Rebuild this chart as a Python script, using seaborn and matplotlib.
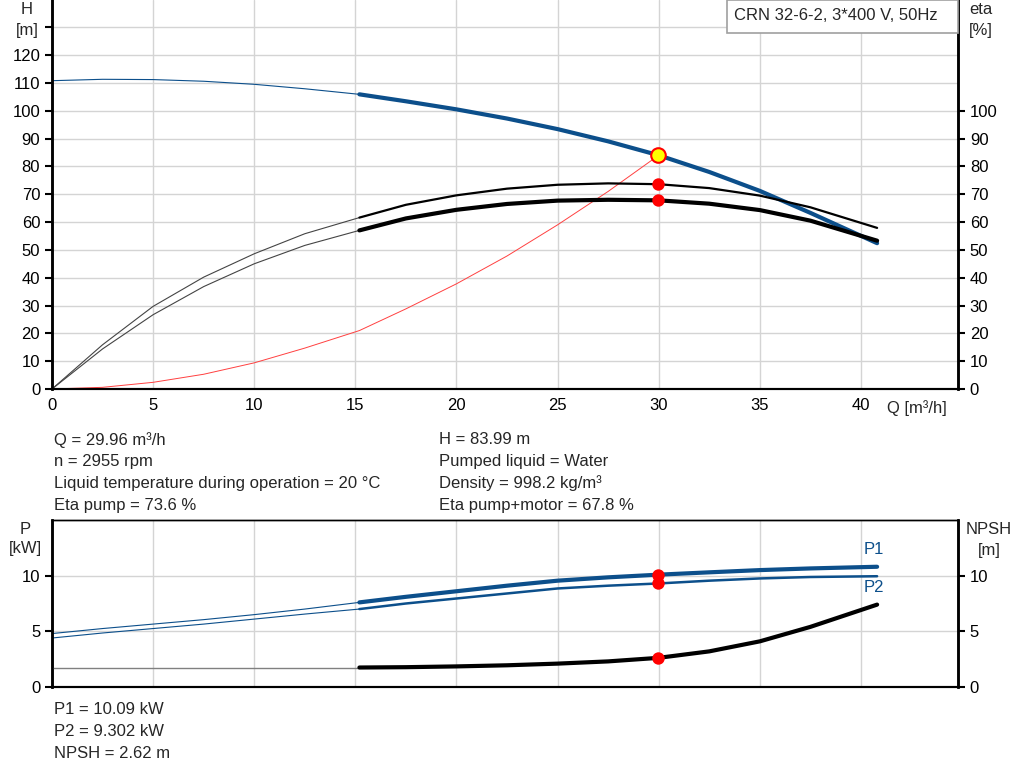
import numpy as np
import pandas as pd
import matplotlib
matplotlib.use("Agg")
import matplotlib.pyplot as plt
from matplotlib.patches import Rectangle
import seaborn as sns

# Values (Q in m3/h)
q = [0, 2.5, 5, 7.5, 10, 12.5, 15.2, 17.5, 20, 22.5, 25, 27.5, 30, 32.5, 35, 37.5, 40.8]
head = [110.8, 111.3, 111.2, 110.6, 109.5, 107.9, 105.9, 103.4, 100.5, 97.2, 93.4, 89.0,
        84.0, 78.0, 71.2, 63.3, 52.4]
eta_pump = [0, 15.9, 29.7, 40.2, 48.6, 55.8, 61.6, 66.2, 69.6, 72.0, 73.4, 73.9,
            73.6, 72.2, 69.5, 65.3, 57.9]
eta_total = [0, 14.4, 26.7, 36.8, 45.0, 51.6, 57.0, 61.3, 64.4, 66.5, 67.7, 68.0,
             67.8, 66.6, 64.3, 60.5, 53.3]
p1 = [4.8, 5.25, 5.65, 6.05, 6.5, 7.0, 7.6, 8.1, 8.6, 9.1, 9.55, 9.85,
      10.09, 10.3, 10.5, 10.65, 10.8]
p2 = [4.4, 4.85, 5.25, 5.65, 6.1, 6.55, 7.0, 7.5, 7.95, 8.4, 8.85, 9.1,
      9.3, 9.55, 9.75, 9.88, 9.95]
npsh = [1.75, 1.75, 1.75, 1.75, 1.75, 1.75, 1.75, 1.78, 1.85, 1.95, 2.1, 2.3,
        2.62, 3.2, 4.1, 5.4, 7.4]

q_sys = [0, 2.5, 5, 7.5, 10, 12.5, 15.2, 17.5, 20, 22.5, 25, 27.5, 30]
h_sys = [0, 0.6, 2.4, 5.3, 9.4, 14.7, 21.0, 28.8, 37.8, 47.8, 59.0, 71.0, 84.0]

Q_OP_MIN = 15.2  # start of the operating range (thick part of the curves)

duty_q = 29.96
duty_h = 83.99
duty_eta = [73.6, 67.8]
duty_p = [10.09, 9.302]
duty_npsh = 2.62

info_left = ["Q = 29.96 m³/h", "n = 2955 rpm",
             "Liquid temperature during operation = 20 °C", "Eta pump = 73.6 %"]
info_right = ["H = 83.99 m", "Pumped liquid = Water",
              "Density = 998.2 kg/m³", "Eta pump+motor = 67.8 %"]
info_bottom = ["P1 = 10.09 kW", "P2 = 9.302 kW", "NPSH = 2.62 m"]
title = "CRN 32-6-2, 3*400 V, 50Hz"

BLUE = "#0c4f8b"
GRID = "#d4d4d4"
FS = 12
W, H = 1024, 781

sns.set_style("white")
plt.rcParams["font.family"] = ["Liberation Sans", "DejaVu Sans"]
plt.rcParams["font.size"] = FS
plt.rcParams["lines.solid_joinstyle"] = "round"

df = pd.DataFrame({"q": q, "head": head, "eta_pump": eta_pump, "eta_total": eta_total,
                   "p1": p1, "p2": p2, "npsh": npsh})
thin = df[df["q"] <= Q_OP_MIN]
thick = df[df["q"] >= Q_OP_MIN]
sys_df = pd.DataFrame({"q": q_sys, "h": h_sys})


def fx(px):
    return px / W


def fy(py):
    return 1 - py / H


fig = plt.figure(figsize=(10.24, 7.81), dpi=100)
ax = fig.add_axes([fx(52), fy(389), fx(958) - fx(52), fy(0) - fy(389)])
ax2 = ax.twinx()
bx = fig.add_axes([fx(52), fy(687), fx(958) - fx(52), fy(520) - fy(687)])
bx2 = bx.twinx()

XMAX = 44.8
for a in (ax, bx):
    a.set_xlim(0, XMAX)
    a.set_xticks(np.arange(0, 45, 5))
    a.grid(True, color=GRID, linewidth=1)
    a.set_axisbelow(True)

# ---- top chart: head and efficiency ----
ax.set_ylim(0, 139.8)
ax.set_yticks(np.arange(0, 140, 10))
ax.set_yticklabels([str(v) if v <= 120 else "" for v in range(0, 140, 10)])
ax2.set_ylim(0, 139.8)
ax2.set_yticks(np.arange(0, 110, 10))

sns.lineplot(data=thin, x="q", y="head", ax=ax, color=BLUE, linewidth=0.8, sort=False)
sns.lineplot(data=thick, x="q", y="head", ax=ax, color=BLUE, linewidth=3, sort=False)
sns.lineplot(data=thin, x="q", y="eta_pump", ax=ax2, color="#444444", linewidth=0.8, sort=False)
sns.lineplot(data=thin, x="q", y="eta_total", ax=ax2, color="#444444", linewidth=0.8, sort=False)
sns.lineplot(data=thick, x="q", y="eta_pump", ax=ax2, color="black", linewidth=1.6, sort=False)
sns.lineplot(data=thick, x="q", y="eta_total", ax=ax2, color="black", linewidth=3, sort=False)
sns.lineplot(data=sys_df, x="q", y="h", ax=ax, color="#ff4040", linewidth=0.7, sort=False)

sns.scatterplot(x=[duty_q] * 2, y=duty_eta, ax=ax2, color="red", s=80, edgecolor="red",
                linewidth=0, zorder=5)
sns.scatterplot(x=[duty_q], y=[duty_h], ax=ax, color="#ffff00", s=110, edgecolor="red",
                linewidth=1.5, zorder=6)

ax.set_xlabel("")
ax.set_ylabel("")
ax2.set_ylabel("")
ax.spines["top"].set_visible(False)
ax2.spines["top"].set_visible(False)

# ---- bottom chart: power and NPSH ----
bx.set_ylim(0, 15.0)
bx.set_yticks([0, 5, 10])
bx2.set_ylim(0, 15.0)
bx2.set_yticks([0, 5, 10])
bx.set_xticklabels([])

sns.lineplot(data=thin, x="q", y="p1", ax=bx, color=BLUE, linewidth=0.8, sort=False)
sns.lineplot(data=thin, x="q", y="p2", ax=bx, color=BLUE, linewidth=0.8, sort=False)
sns.lineplot(data=thick, x="q", y="p1", ax=bx, color=BLUE, linewidth=3, sort=False)
sns.lineplot(data=thick, x="q", y="p2", ax=bx, color=BLUE, linewidth=1.8, sort=False)
sns.lineplot(data=thin, x="q", y="npsh", ax=bx2, color="#808080", linewidth=1, sort=False)
sns.lineplot(data=thick, x="q", y="npsh", ax=bx2, color="black", linewidth=3, sort=False)

sns.scatterplot(x=[duty_q] * 2, y=duty_p, ax=bx, color="red", s=80, linewidth=0, zorder=5)
sns.scatterplot(x=[duty_q], y=[duty_npsh], ax=bx2, color="red", s=80, linewidth=0, zorder=5)

for a in (bx, bx2):
    a.set_xlabel("")
    a.set_ylabel("")

for a in (ax, ax2, bx, bx2):
    for s in a.spines.values():
        s.set_color("black")
    a.spines["left"].set_linewidth(1.8)
    a.spines["right"].set_linewidth(1.8)
    a.spines["bottom"].set_linewidth(1.5)
    a.tick_params(axis="both", labelsize=FS, colors="black", length=5, width=1.5,
                  direction="out")
ax.tick_params(axis="x", length=3, width=1)
bx.tick_params(axis="x", length=0)
bx.spines["top"].set_linewidth(1)
bx2.spines["top"].set_linewidth(1)

# ---- axis captions and annotations ----
fig.text(fx(27), fy(9), "H", ha="center", va="center", fontsize=FS)
fig.text(fx(27), fy(30), "[m]", ha="center", va="center", fontsize=FS)
fig.text(fx(981), fy(10), "eta", ha="center", va="center", fontsize=FS)
fig.text(fx(981), fy(30), "[%]", ha="center", va="center", fontsize=FS)
fig.text(fx(887), fy(408), "Q [m³/h]", ha="left", va="center", fontsize=FS)
fig.text(fx(25), fy(529), "P", ha="center", va="center", fontsize=FS)
fig.text(fx(25), fy(549), "[kW]", ha="center", va="center", fontsize=FS)
fig.text(fx(989), fy(530), "NPSH", ha="center", va="center", fontsize=FS)
fig.text(fx(989), fy(550), "[m]", ha="center", va="center", fontsize=FS)
fig.text(fx(864), fy(550), "P1", ha="left", va="center", fontsize=FS, color=BLUE)
fig.text(fx(864), fy(587), "P2", ha="left", va="center", fontsize=FS, color=BLUE)

fig.patches.append(Rectangle((fx(727), fy(33)), fx(958) - fx(727), fy(0) - fy(33),
                             transform=fig.transFigure, facecolor="white",
                             edgecolor="#a0a0a0", linewidth=1.2, zorder=10))
fig.text(fx(734), fy(15), title, ha="left", va="center", fontsize=FS, zorder=11)

for i, t in enumerate(info_left):
    fig.text(fx(54), fy(440 + i * 21.7), t, ha="left", va="center", fontsize=FS)
for i, t in enumerate(info_right):
    fig.text(fx(439), fy(440 + i * 21.7), t, ha="left", va="center", fontsize=FS)
for i, t in enumerate(info_bottom):
    fig.text(fx(54), fy(710 + i * 21.5), t, ha="left", va="center", fontsize=FS)

fig.savefig("out.png", dpi=100, facecolor="white")
plt.close(fig)
